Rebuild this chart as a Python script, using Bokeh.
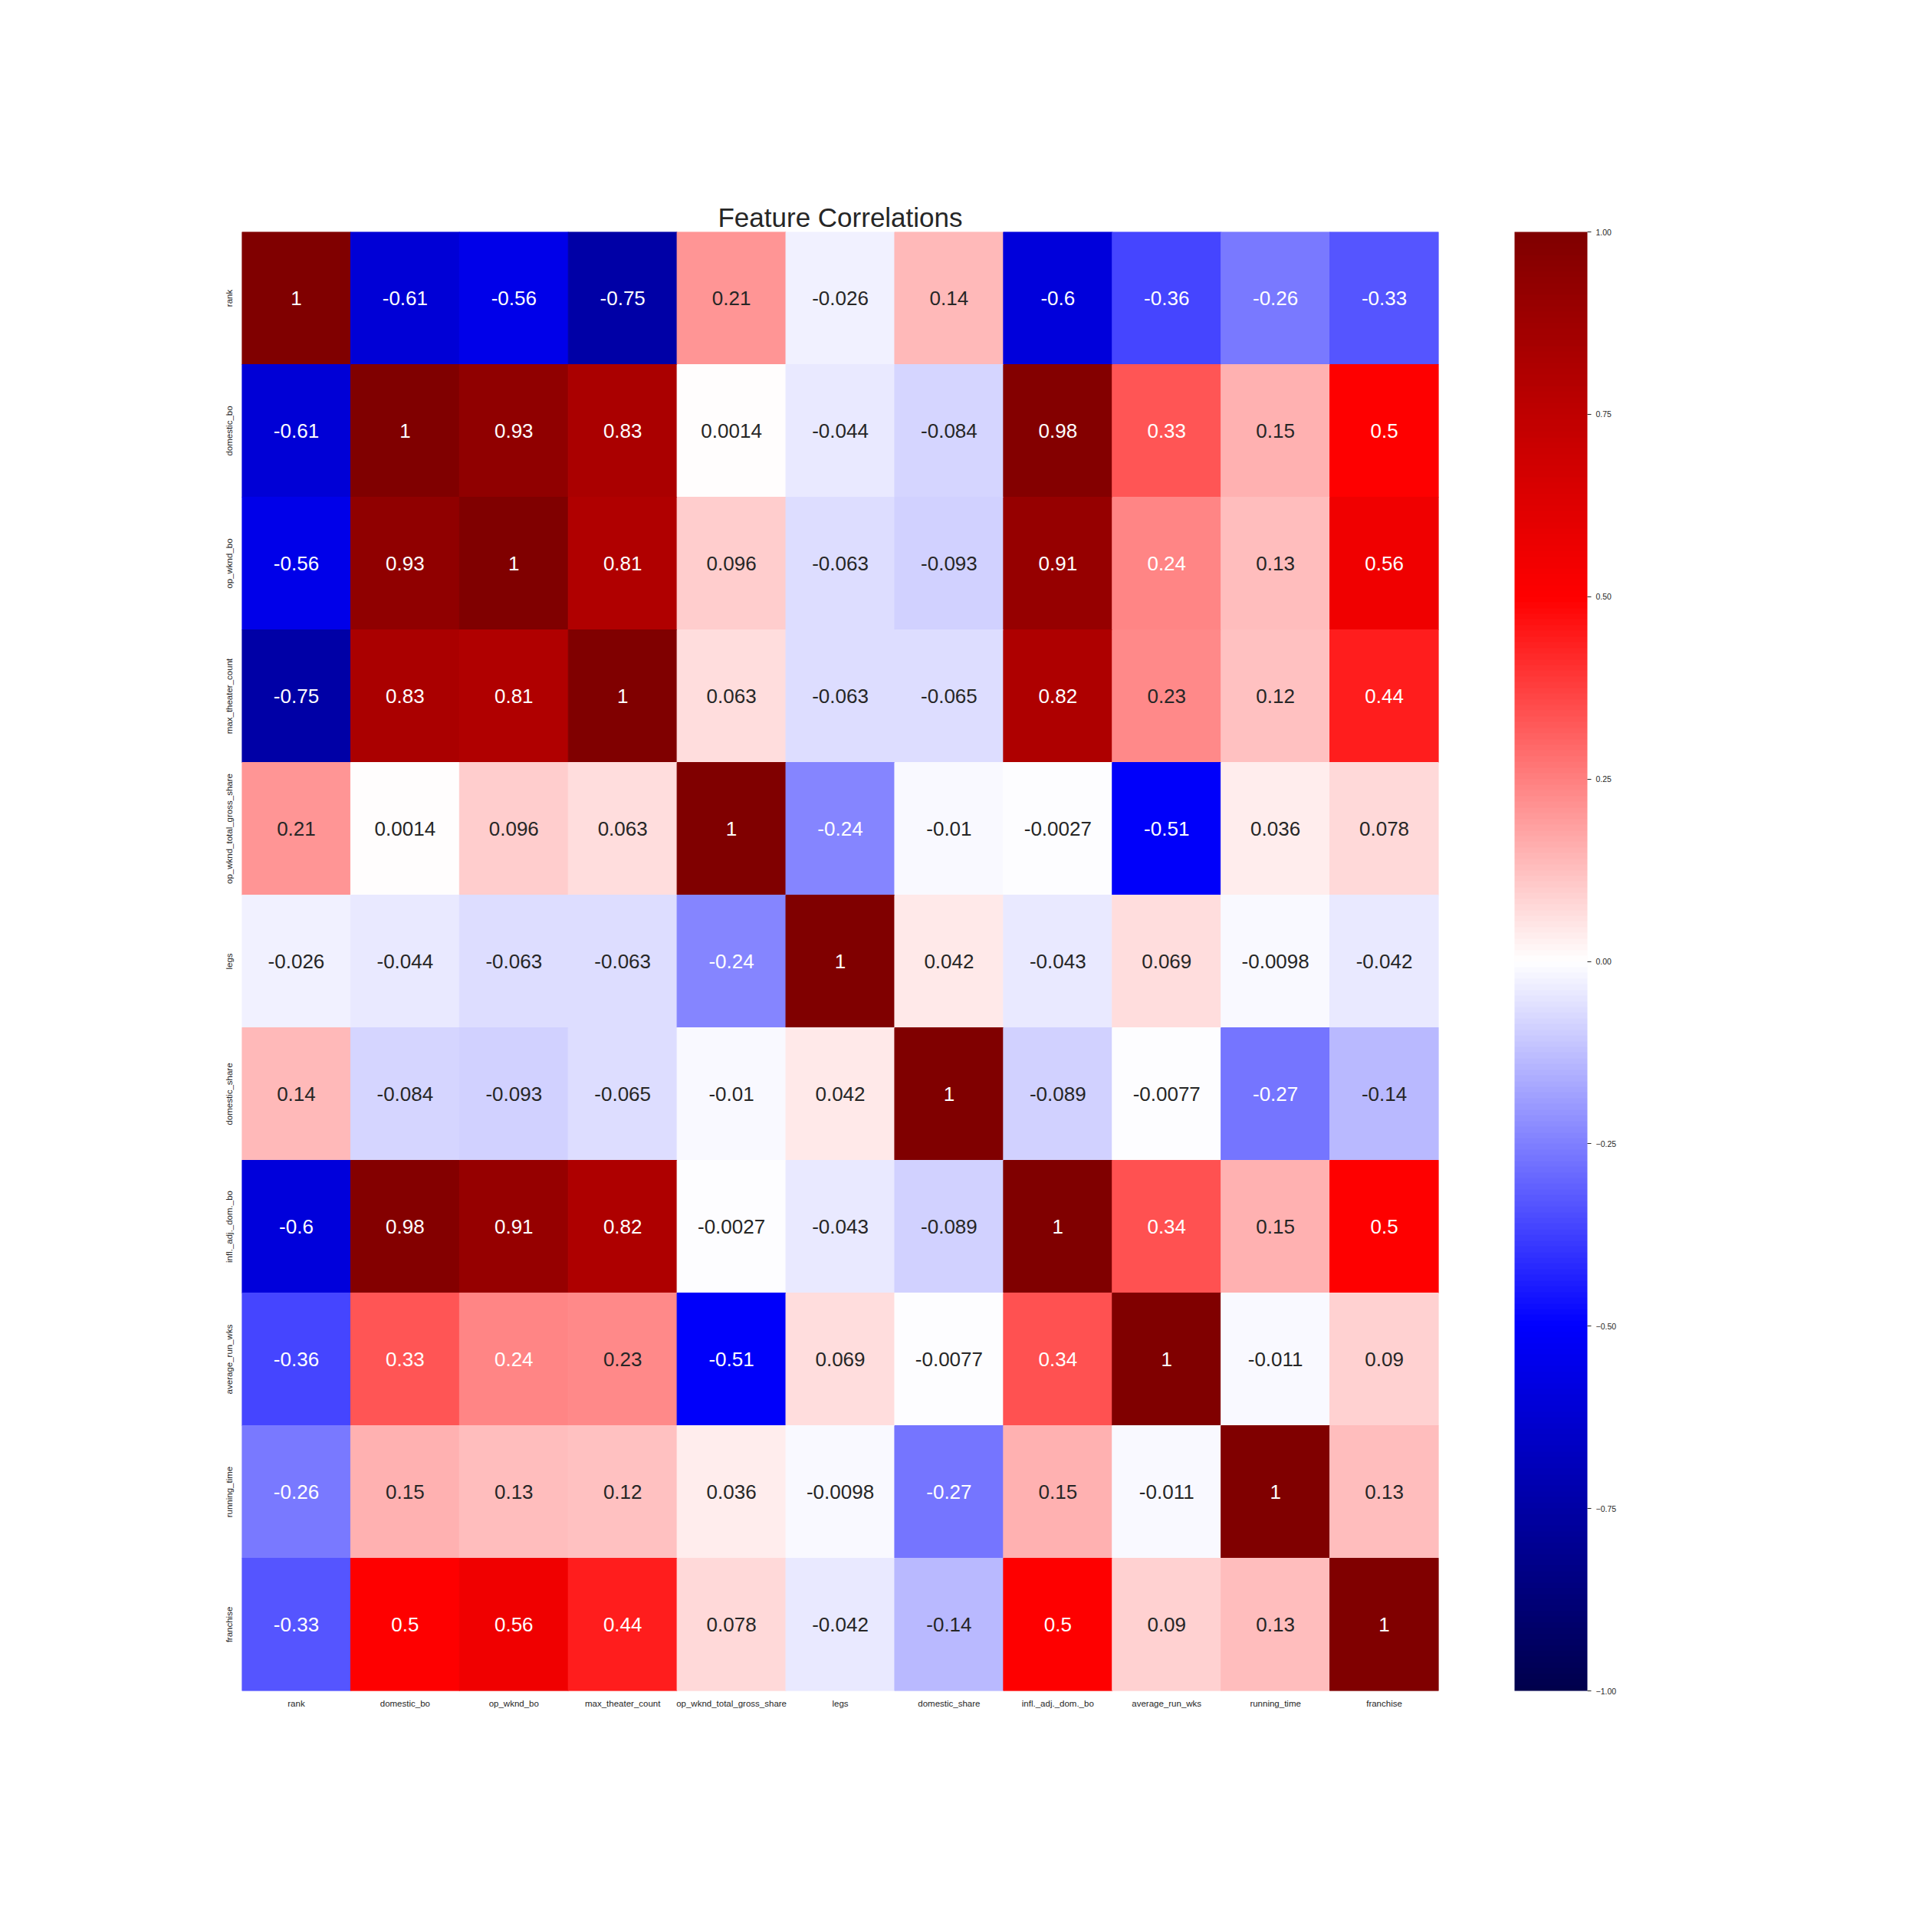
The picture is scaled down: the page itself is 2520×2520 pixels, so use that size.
import numpy as np
from bokeh.plotting import figure
from bokeh.models import (ColumnDataSource, LinearColorMapper, ColorBar, FixedTicker,
                          CustomJSTickFormatter)
from bokeh.transform import transform
from bokeh.embed import file_html
from bokeh.resources import INLINE
from bokeh.core.properties import value

features = ["rank", "domestic_bo", "op_wknd_bo", "max_theater_count",
            "op_wknd_total_gross_share", "legs", "domestic_share",
            "infl._adj._dom._bo", "average_run_wks", "running_time", "franchise"]

corr_rank = [1, -0.61, -0.56, -0.75, 0.21, -0.026, 0.14, -0.6, -0.36, -0.26, -0.33]
corr_domestic_bo = [-0.61, 1, 0.93, 0.83, 0.0014, -0.044, -0.084, 0.98, 0.33, 0.15, 0.5]
corr_op_wknd_bo = [-0.56, 0.93, 1, 0.81, 0.096, -0.063, -0.093, 0.91, 0.24, 0.13, 0.56]
corr_max_theater_count = [-0.75, 0.83, 0.81, 1, 0.063, -0.063, -0.065, 0.82, 0.23, 0.12, 0.44]
corr_op_wknd_total_gross_share = [0.21, 0.0014, 0.096, 0.063, 1, -0.24, -0.01, -0.0027, -0.51, 0.036, 0.078]
corr_legs = [-0.026, -0.044, -0.063, -0.063, -0.24, 1, 0.042, -0.043, 0.069, -0.0098, -0.042]
corr_domestic_share = [0.14, -0.084, -0.093, -0.065, -0.01, 0.042, 1, -0.089, -0.0077, -0.27, -0.14]
corr_infl_adj_dom_bo = [-0.6, 0.98, 0.91, 0.82, -0.0027, -0.043, -0.089, 1, 0.34, 0.15, 0.5]
corr_average_run_wks = [-0.36, 0.33, 0.24, 0.23, -0.51, 0.069, -0.0077, 0.34, 1, -0.011, 0.09]
corr_running_time = [-0.26, 0.15, 0.13, 0.12, 0.036, -0.0098, -0.27, 0.15, -0.011, 1, 0.13]
corr_franchise = [-0.33, 0.5, 0.56, 0.44, 0.078, -0.042, -0.14, 0.5, 0.09, 0.13, 1]

colorbar_ticks = [-1.0, -0.75, -0.5, -0.25, 0.0, 0.25, 0.5, 0.75, 1.0]

matrix = [corr_rank, corr_domestic_bo, corr_op_wknd_bo, corr_max_theater_count,
          corr_op_wknd_total_gross_share, corr_legs, corr_domestic_share,
          corr_infl_adj_dom_bo, corr_average_run_wks, corr_running_time, corr_franchise]

# matplotlib "seismic" colormap
anchors = np.array([(0, 0, 0.3), (0, 0, 1), (1, 1, 1), (1, 0, 0), (0.5, 0, 0)])
apos = np.linspace(0, 1, len(anchors))
t = np.linspace(0, 1, 256)
rgb = np.stack([np.interp(t, apos, anchors[:, k]) for k in range(3)], axis=1)
palette = ["#%02x%02x%02x" % tuple(int(round(c * 255)) for c in row) for row in rgb]

def rel_lum(c):
    c = np.where(c <= 0.03928, c / 12.92, ((c + 0.055) / 1.055) ** 2.4)
    return 0.2126 * c[0] + 0.7152 * c[1] + 0.0722 * c[2]

xs, ys, vals, labels, tcolors = [], [], [], [], []
for i, rname in enumerate(features):
    for j, cname in enumerate(features):
        v = matrix[i][j]
        xs.append(cname)
        ys.append(rname)
        vals.append(v)
        labels.append("{:.2g}".format(v))
        idx = int(np.clip((v + 1) / 2 * 256, 0, 255))
        tcolors.append("#262626" if rel_lum(rgb[idx]) > 0.408 else "#ffffff")

src = ColumnDataSource(dict(x=xs, y=ys, v=vals, label=labels, tc=tcolors))
mapper = LinearColorMapper(palette=palette, low=-1, high=1)

p = figure(x_range=features, y_range=list(reversed(features)),
           frame_width=1561, frame_height=1903,
           min_border_left=315, min_border_top=302, min_border_bottom=290, min_border_right=400,
           output_backend="svg", toolbar_location=None,
           title="Feature Correlations")

p.rect(x="x", y="y", width=1, height=1, source=src,
       fill_color=transform("v", mapper), line_color=transform("v", mapper), line_width=1)
p.text(x="x", y="y", text="label", source=src, text_color="tc",
       text_align="center", text_baseline="middle",
       text_font=value("Liberation Sans"), text_font_size="26px")

p.title.text_font = "Liberation Sans"
p.title.text_font_size = "35px"
p.title.text_font_style = "normal"
p.title.text_color = "#262626"
p.title.align = "center"
p.title.standoff = 0

p.outline_line_color = None
p.grid.grid_line_color = None
for ax in (p.xaxis, p.yaxis):
    ax.axis_line_color = None
    ax.major_tick_line_color = None
    ax.minor_tick_line_color = None
    ax.major_label_text_font = "Liberation Sans"
    ax.major_label_text_font_size = "11.5px"
    ax.major_label_text_color = "#262626"
p.xaxis.major_label_standoff = 4
p.yaxis.major_label_standoff = 5
p.yaxis.major_label_orientation = "vertical"

fmt = CustomJSTickFormatter(code="return tick.toFixed(2).replace('-', '\u2212');")
cb = ColorBar(color_mapper=mapper, width=95, height=1903, padding=0, margin=0,
              location=(99, 0),
              ticker=FixedTicker(ticks=colorbar_ticks), formatter=fmt,
              major_label_text_font="Liberation Sans", major_label_text_font_size="10.5px",
              major_label_text_color="#262626",
              major_tick_out=5, major_tick_in=0, major_tick_line_color="#262626",
              minor_tick_line_color=None, bar_line_color=None, label_standoff=6)
p.add_layout(cb, "right")

open("out.html", "w").write(file_html(p, INLINE))
